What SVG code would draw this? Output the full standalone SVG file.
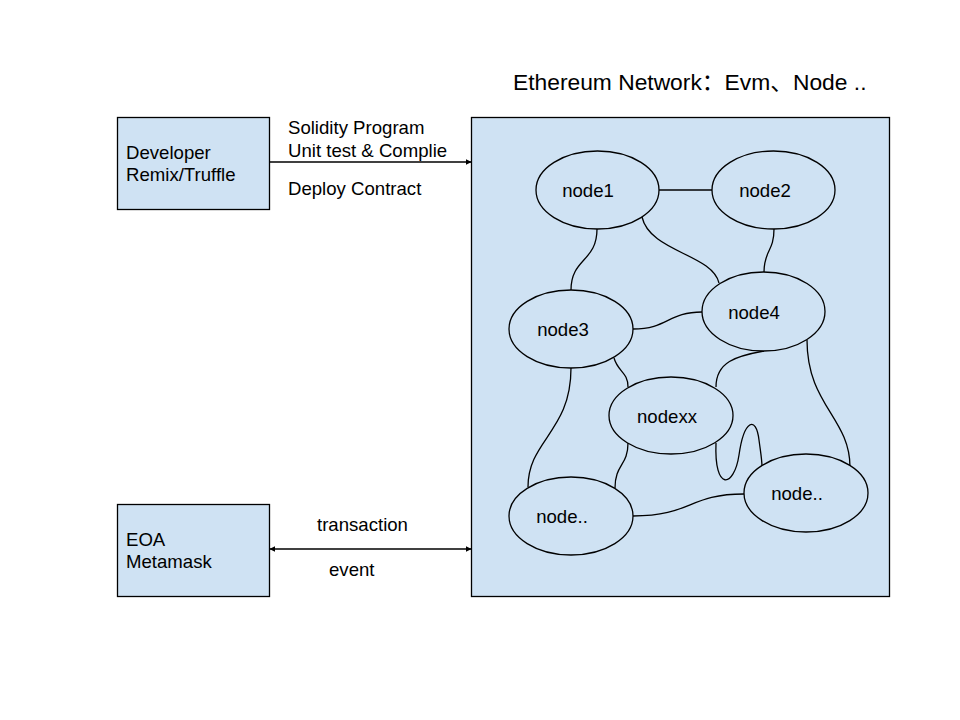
<svg xmlns="http://www.w3.org/2000/svg" width="960" height="720" viewBox="0 0 960 720">
<defs>
<style>
.box{fill:#cfe2f3;stroke:#000;stroke-width:1.3}
.el{fill:#cfe2f3;stroke:#000;stroke-width:1.3}
.t{font-family:"Liberation Sans",Arial,sans-serif;font-size:18.6px;fill:#000}
.c{text-anchor:middle}
.ln{fill:none;stroke:#000;stroke-width:1.3}
</style>
<marker id="ah" viewBox="0 0 10 10" refX="9" refY="5" markerWidth="6" markerHeight="6" orient="auto-start-reverse" markerUnits="userSpaceOnUse">
<path d="M0,0 L10,5 L0,10 z" fill="#000"/>
</marker>
</defs>
<rect width="960" height="720" fill="#fff"/>
<text class="t" x="513" y="90" style="font-size:22.8px;font-family:'Liberation Sans','Noto Sans CJK SC',sans-serif">Ethereum Network：Evm、Node ..</text>

<g id="developer">
<rect class="box" x="117.5" y="117.5" width="152" height="92"/>
<text class="t" x="126" y="159">Developer</text>
<text class="t" x="126" y="181">Remix/Truffle</text>
</g>
<g id="eoa">
<rect class="box" x="117.5" y="504.5" width="152" height="92"/>
<text class="t" x="126" y="546">EOA</text>
<text class="t" x="126" y="568">Metamask</text>
</g>
<g id="network">
<rect class="box" x="471.5" y="117.5" width="418" height="479"/>
</g>

<g id="connectors">
<line class="ln" x1="269.5" y1="162" x2="471" y2="162" marker-end="url(#ah)"/>
<line class="ln" x1="270" y1="549" x2="471" y2="549" marker-start="url(#ah)" marker-end="url(#ah)"/>
<path class="ln" d="M659,190 L712,190"/>
<path class="ln" d="M597,229 C597,262 571,258 571,290"/>
<path class="ln" d="M642,217 C650,252 712,254 719,283"/>
<path class="ln" d="M774,229 C774,252 764,250 764,272"/>
<path class="ln" d="M633,329 C668,329 668,312 702,312"/>
<path class="ln" d="M614,358 C618,372 628,372 628,387"/>
<path class="ln" d="M764,351 C736,356 716,362 716,387"/>
<path class="ln" d="M807,340 C807,405 850,418 850,467"/>
<path class="ln" d="M571,368 C571,432 528,440 528,487"/>
<path class="ln" d="M628,443 C628,466 615,464 615,488"/>
<path class="ln" d="M716,443 C714,492 734,488 739,455 C744,420 756,415 759,440 C761,455 762,460 762,467"/>
<path class="ln" d="M633,516 C692,516 688,494 744,494"/>
<text class="t" x="288" y="134">Solidity Program</text>
<text class="t" x="288" y="157">Unit test &amp; Complie</text>
<text class="t" x="288" y="195">Deploy Contract</text>
<text class="t" x="317" y="531">transaction</text>
<text class="t" x="329" y="576">event</text>
</g>

<g id="node1"><ellipse class="el" cx="597.5" cy="190" rx="61.5" ry="39"/><text class="t c" x="588" y="197">node1</text></g>
<g id="node2"><ellipse class="el" cx="773.5" cy="190" rx="61.5" ry="39"/><text class="t c" x="765" y="197">node2</text></g>
<g id="node3"><ellipse class="el" cx="571" cy="329" rx="62" ry="39"/><text class="t c" x="563" y="336">node3</text></g>
<g id="node4"><ellipse class="el" cx="763.5" cy="311.5" rx="61.5" ry="39.5"/><text class="t c" x="754" y="319">node4</text></g>
<g id="nodexx"><ellipse class="el" cx="671" cy="415.5" rx="62" ry="38.5"/><text class="t c" x="667" y="423">nodexx</text></g>
<g id="node5"><ellipse class="el" cx="571" cy="516" rx="62" ry="39"/><text class="t c" x="562" y="523">node..</text></g>
<g id="node6"><ellipse class="el" cx="806" cy="493" rx="62" ry="39"/><text class="t c" x="797" y="500">node..</text></g>
</svg>
